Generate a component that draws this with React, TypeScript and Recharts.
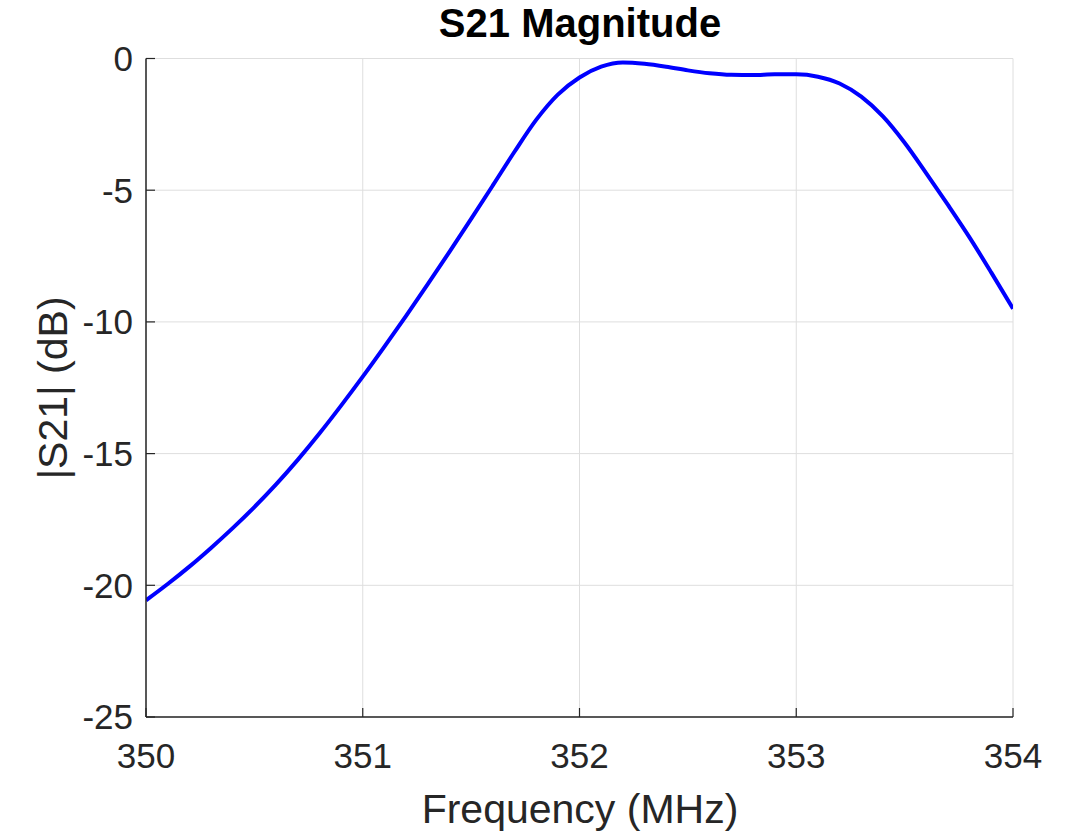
import React from 'react';
import { LineChart, Line, XAxis, YAxis, CartesianGrid } from 'recharts';

// frequency in MHz
const freqs = [
  350.0, 350.1, 350.2, 350.3, 350.4, 350.5, 350.6, 350.7, 350.8, 350.9,
  351.0, 351.1, 351.2, 351.3, 351.4, 351.5, 351.6, 351.7, 351.8, 351.9,
  352.0, 352.1, 352.2, 352.3, 352.4, 352.5, 352.6, 352.7, 352.8, 352.9,
  353.0, 353.1, 353.2, 353.3, 353.4, 353.5, 353.6, 353.7, 353.8, 353.9,
  354.0,
];

// |S21| in dB
const s21 = [
  -20.57, -19.95, -19.29, -18.58, -17.83, -17.03, -16.17, -15.24, -14.24, -13.18,
  -12.08, -10.94, -9.77, -8.57, -7.34, -6.09, -4.82, -3.54, -2.33, -1.37,
  -0.72, -0.31, -0.15, -0.2, -0.31, -0.45, -0.56, -0.62, -0.63, -0.6,
  -0.6, -0.69, -0.95, -1.45, -2.2, -3.2, -4.36, -5.56, -6.8, -8.13,
  -9.5,
];

const xTicks = [350, 351, 352, 353, 354];
const yTicks = [-25, -20, -15, -10, -5, 0];

const data = freqs.map((f, i) => ({ f, mag: s21[i] }));

const FONT = '"Liberation Sans", Arial, Helvetica, sans-serif';
const AXIS = '#262626';
const TICK_LEN = 9;
const X_GAP = 26;
const Y_GAP = 13;

// MATLAB style: tick marks point into the axes box
const BottomTick = (props: any) => {
  const { x, y, payload } = props;
  const axisY = y - X_GAP;
  return (
    <g>
      <line x1={x} x2={x} y1={axisY} y2={axisY - TICK_LEN} stroke={AXIS} strokeWidth={1.2} />
      <text x={x} y={y} dy="0.71em" textAnchor="middle" fill={AXIS} fontSize={35} fontFamily={FONT}>
        {payload.value}
      </text>
    </g>
  );
};

const LeftTick = (props: any) => {
  const { x, y, payload } = props;
  const axisX = x + Y_GAP;
  return (
    <g>
      <line x1={axisX} x2={axisX + TICK_LEN} y1={y} y2={y} stroke={AXIS} strokeWidth={1.2} />
      <text x={x} y={y} dy="0.355em" textAnchor="end" fill={AXIS} fontSize={35} fontFamily={FONT}>
        {payload.value}
      </text>
    </g>
  );
};

const TopTick = (props: any) => {
  const { x, y } = props;
  return <line x1={x} x2={x} y1={y} y2={y + TICK_LEN} stroke={AXIS} strokeWidth={1.2} />;
};

const RightTick = (props: any) => {
  const { x, y } = props;
  return <line x1={x} x2={x - TICK_LEN} y1={y} y2={y} stroke={AXIS} strokeWidth={1.2} />;
};

export default function App() {
  return (
    <div style={{ position: 'absolute', left: 0, top: 0, background: '#fff' }}>
      <LineChart
        width={1071}
        height={835}
        data={data}
        margin={{ top: 58.5, right: 58, bottom: 58, left: 66 }}
        style={{ fontFamily: FONT }}
      >
        <CartesianGrid stroke="#dedede" strokeWidth={1} />
        <XAxis
          dataKey="f"
          type="number"
          domain={[350, 354]}
          ticks={xTicks}
          height={60}
          stroke={AXIS}
          strokeWidth={1.5}
          tickLine={false}
          tickSize={0}
          tickMargin={X_GAP}
          tick={BottomTick}
          allowDataOverflow
        />
        <XAxis
          xAxisId="top"
          orientation="top"
          dataKey="f"
          type="number"
          domain={[350, 354]}
          ticks={xTicks}
          height={0}
          stroke={AXIS}
          strokeWidth={1.5}
          tickLine={false}
          tickSize={0}
          tickMargin={0}
          tick={TopTick}
        />
        <YAxis
          type="number"
          domain={[-25, 0]}
          ticks={yTicks}
          width={80}
          stroke={AXIS}
          strokeWidth={1.5}
          tickLine={false}
          tickSize={0}
          tickMargin={Y_GAP}
          tick={LeftTick}
          allowDataOverflow
        />
        <YAxis
          yAxisId="right"
          orientation="right"
          type="number"
          domain={[-25, 0]}
          ticks={yTicks}
          width={0}
          stroke={AXIS}
          strokeWidth={1.5}
          tickLine={false}
          tickSize={0}
          tickMargin={0}
          tick={RightTick}
        />
        <Line
          type="monotone"
          dataKey="mag"
          stroke="#0000ff"
          strokeWidth={4}
          dot={false}
          isAnimationActive={false}
        />
        <text x={580} y={37} textAnchor="middle" fontSize={40} fontWeight="bold" fill="#000" fontFamily={FONT}>
          S21 Magnitude
        </text>
        <text x={580} y={823} textAnchor="middle" fontSize={41} fill={AXIS} fontFamily={FONT}>
          Frequency (MHz)
        </text>
        <text
          x={67}
          y={388}
          textAnchor="middle"
          fontSize={41}
          fill={AXIS}
          fontFamily={FONT}
          transform="rotate(-90 67 388)"
        >
          |S21| (dB)
        </text>
      </LineChart>
    </div>
  );
}
